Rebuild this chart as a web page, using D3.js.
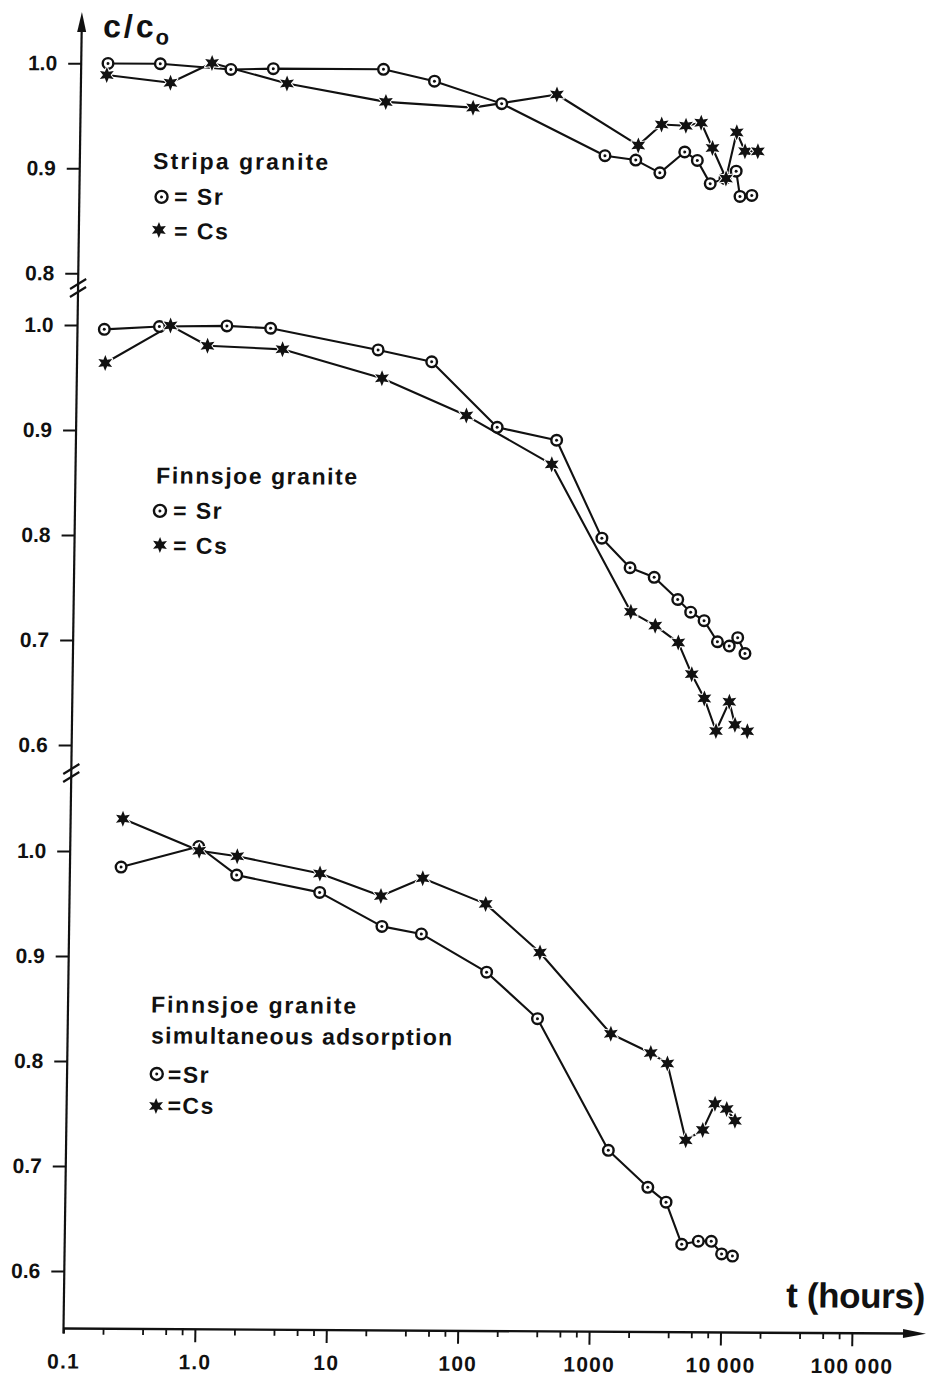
<!DOCTYPE html>
<html>
<head>
<meta charset="utf-8">
<script src="https://cdn.jsdelivr.net/npm/d3@7/dist/d3.min.js"></script>
<style>
  html, body { margin: 0; padding: 0; background: #fff; }
  svg { display: block; }
  text { font-family: "Liberation Sans", Arial, Helvetica, sans-serif; font-weight: bold; fill: #111; }
</style>
</head>
<body>
<svg id="chart" width="931" height="1381"></svg>
<script>
// ---- axis ticks ----
const timeTicks = [0.1, 1, 10, 100, 1000, 10000, 100000];
const timeTickLabels = ["0.1", "1.0", "10", "100", "1000", "10\u2009000", "100\u2009000"];
const timeMinorSteps = [2, 4, 6, 8];
const stripaTicks = [0.8, 0.9, 1.0];
const finnsjoeTicks = [0.6, 0.7, 0.8, 0.9, 1.0];

// ---- Stripa granite (t in hours, c/c0) ----
const stripaSrTime = [0.16, 0.40, 1.38, 2.9, 20, 49, 160, 990, 1700, 2600, 4000, 5000, 6300, 8150, 9900, 10650, 13100];
const stripaSrC    = [1.000, 1.000, 0.995, 0.996, 0.996, 0.985, 0.964, 0.915, 0.911, 0.899, 0.919, 0.911, 0.889, 0.894, 0.901, 0.877, 0.878];
const stripaCsTime = [0.157, 0.48, 0.99, 3.7, 21, 97, 420, 1770, 2650, 4060, 5300, 6500, 8300, 9900, 11500, 14400];
const stripaCsC    = [0.989, 0.982, 1.001, 0.982, 0.965, 0.960, 0.973, 0.925, 0.945, 0.944, 0.947, 0.923, 0.894, 0.938, 0.920, 0.920];

// ---- Finnsjoe granite ----
const finnSrTime = [0.16, 0.42, 1.37, 2.95, 19.5, 50, 160, 455, 1030, 1700, 2600, 3950, 4970, 6300, 8000, 9850, 11400, 13000];
const finnSrC    = [0.996, 0.999, 1.000, 0.998, 0.978, 0.967, 0.905, 0.893, 0.800, 0.772, 0.763, 0.742, 0.730, 0.722, 0.702, 0.698, 0.706, 0.691];
const finnCsTime = [0.164, 0.51, 0.98, 3.65, 21, 93, 420, 1740, 2680, 4030, 5140, 6450, 7970, 10000, 11100, 13800];
const finnCsC    = [0.964, 1.000, 0.981, 0.978, 0.951, 0.916, 0.870, 0.730, 0.717, 0.701, 0.671, 0.648, 0.617, 0.645, 0.623, 0.617];

// ---- Finnsjoe granite, simultaneous adsorption ----
const simSrTime = [0.245, 0.95, 1.86, 8.0, 24, 48, 152, 375, 1340, 2700, 3730, 4960, 6630, 8320, 10000, 12100];
const simSrC    = [0.985, 1.005, 0.978, 0.962, 0.930, 0.923, 0.887, 0.843, 0.718, 0.683, 0.669, 0.629, 0.632, 0.632, 0.620, 0.618];
const simCsTime = [0.25, 0.96, 1.87, 8.0, 23.4, 48.5, 147, 385, 1360, 2750, 3690, 5190, 6970, 8590, 10550, 12240];
const simCsC    = [1.031, 1.001, 0.996, 0.980, 0.959, 0.976, 0.952, 0.906, 0.829, 0.811, 0.801, 0.728, 0.738, 0.763, 0.758, 0.747];

// ---- layout ----
const INK = "#111";
const O = { x: 63.5, y: 1328.5 };          // axis origin (t = 0.1 h)
const DECADE = 131.4;                        // px per decade of time
const shear = { y: 0.014, x: 0.006 };        // the plate is drawn with a slight shear

const svg = d3.select("#chart");
svg.append("rect").attr("width", 931).attr("height", 1381).attr("fill", "#fff");

const plate = svg.append("g")
  .attr("transform", `matrix(1,${shear.x},${-shear.y},1,${shear.y * O.y},${-shear.x * O.x})`);

const x = d3.scaleLog().domain([0.1, 1e5]).range([O.x, O.x + 6 * DECADE]);

const panels = [
  {
    y: d3.scaleLinear().domain([0.8, 1.0]).range([273.3, 63.3]),
    ticks: stripaTicks,
    sr: d3.zip(stripaSrTime, stripaSrC),
    cs: d3.zip(stripaCsTime, stripaCsC),
    titles: [{ text: "Stripa granite", x: 136.8, y: 168.5, w: 175 }],
    legendSr: { mx: 145.7, my: 196.4, text: "= Sr", tx: 158.3, ty: 204 },
    legendCs: { mx: 143.5, my: 229.4, text: "= Cs", tx: 158.7, ty: 238.5 }
  },
  {
    y: d3.scaleLinear().domain([0.6, 1.0]).range([745, 325]),
    ticks: finnsjoeTicks,
    sr: d3.zip(finnSrTime, finnSrC),
    cs: d3.zip(finnCsTime, finnCsC),
    titles: [{ text: "Finnsjoe granite", x: 144.2, y: 483, w: 201 }],
    legendSr: { mx: 148.5, my: 510.4, text: "= Sr", tx: 161.6, ty: 518 },
    legendCs: { mx: 149, my: 544.4, text: "= Cs", tx: 162.1, ty: 553 }
  },
  {
    y: d3.scaleLinear().domain([0.6, 1.0]).range([1271, 851]),
    ticks: finnsjoeTicks,
    sr: d3.zip(simSrTime, simSrC),
    cs: d3.zip(simCsTime, simCsC),
    titles: [
      { text: "Finnsjoe granite", x: 146.6, y: 1012, w: 205 },
      { text: "simultaneous adsorption", x: 147, y: 1043, w: 301 }
    ],
    legendSr: { mx: 153.2, my: 1073.4, text: "=Sr", tx: 164.3, ty: 1082 },
    legendCs: { mx: 152.9, my: 1105.4, text: "=Cs", tx: 164.4, ty: 1113 }
  }
];

// ---- marker shapes ----
function starPath(R, r, n) {
  const pts = [];
  for (let i = 0; i < 2 * n; i++) {
    const a = -Math.PI / 2 + i * Math.PI / n;
    const rad = i % 2 ? r : R;
    pts.push([rad * Math.cos(a), rad * Math.sin(a)]);
  }
  return "M" + pts.map(p => p[0].toFixed(2) + "," + p[1].toFixed(2)).join("L") + "Z";
}
const STAR = starPath(8, 3.8, 6);

function drawCircleMarker(sel, r) {
  sel.append("circle").attr("r", r).attr("fill", "#fff").attr("stroke", INK).attr("stroke-width", 2.4);
  sel.append("circle").attr("r", 1.5).attr("fill", INK);
}
function drawStarMarker(sel, scale) {
  sel.append("path").attr("d", STAR)
    .attr("transform", `scale(${scale})`)
    .attr("fill", INK).attr("stroke", "#fff").attr("stroke-width", 2)
    .attr("paint-order", "stroke").attr("stroke-linejoin", "round");
}

// ---- y axis line with arrow ----
plate.append("line")
  .attr("x1", O.x).attr("y1", O.y + 5).attr("x2", O.x).attr("y2", 28)
  .attr("stroke", INK).attr("stroke-width", 2.2);
plate.append("path")
  .attr("d", `M${O.x},12 L${O.x - 4.5},32 L${O.x + 4.5},32 Z`)
  .attr("fill", INK);

// axis breaks between the panels
[284, 292, 769, 777].forEach(yb => {
  plate.append("line")
    .attr("x1", O.x - 8).attr("y1", yb + 5).attr("x2", O.x + 8).attr("y2", yb - 5)
    .attr("stroke", INK).attr("stroke-width", 2.2);
});

// ---- x axis line with arrow ----
plate.append("line")
  .attr("x1", O.x).attr("y1", O.y).attr("x2", 906).attr("y2", O.y)
  .attr("stroke", INK).attr("stroke-width", 2.4);
plate.append("path")
  .attr("d", `M926,${O.y} L903,${O.y - 4.5} L903,${O.y + 4.5} Z`)
  .attr("fill", INK);

// major decade ticks and labels
const xAxisG = plate.append("g").attr("transform", `translate(0,${O.y})`)
  .call(d3.axisBottom(x).tickValues(timeTicks).tickSize(13)
    .tickFormat((d, i) => timeTickLabels[i]));
xAxisG.select(".domain").remove();
xAxisG.selectAll(".tick line").attr("stroke", INK).attr("stroke-width", 2)
  .filter(d => d === 0.1).attr("y2", 5);
xAxisG.selectAll(".tick text")
  .attr("y", 40).attr("dy", 0)
  .attr("fill", INK).style("font-size", "21px").style("letter-spacing", "1.2px")
  .style("font-family", '"Liberation Sans", Arial, sans-serif').style("font-weight", "bold");

// minor ticks at 2, 4, 6, 8 within each decade
const minorValues = [];
timeTicks.slice(0, -1).forEach(dec => timeMinorSteps.forEach(s => minorValues.push(dec * s)));
const xMinorG = plate.append("g").attr("transform", `translate(0,${O.y})`)
  .call(d3.axisBottom(x).tickValues(minorValues).tickSize(6).tickFormat(""));
xMinorG.select(".domain").remove();
xMinorG.selectAll(".tick line").attr("stroke", INK).attr("stroke-width", 1.8);

// axis titles
const yTitle = plate.append("text").attr("x", 85).attr("y", 37);
yTitle.append("tspan").text("c/c").style("font-size", "32px").style("letter-spacing", "3px");
yTitle.append("tspan").text("o").attr("dx", -1).attr("dy", 7).style("font-size", "22px");

plate.append("text")
  .attr("x", 785.7).attr("y", 1303)
  .attr("textLength", 139).attr("lengthAdjust", "spacing")
  .style("font-size", "35px")
  .text("t (hours)");

// ---- panels ----
const line = yScale => d3.line().x(d => x(d[0])).y(d => yScale(d[1]));

panels.forEach(p => {
  // y ticks
  const yAxisG = plate.append("g").attr("transform", `translate(${O.x},0)`)
    .call(d3.axisLeft(p.y).tickValues(p.ticks).tickSize(13).tickPadding(11)
      .tickFormat(d3.format(".1f")));
  yAxisG.select(".domain").remove();
  yAxisG.selectAll(".tick line").attr("stroke", INK).attr("stroke-width", 2);
  yAxisG.selectAll(".tick text")
    .attr("fill", INK).style("font-size", "21px")
    .style("font-family", '"Liberation Sans", Arial, sans-serif').style("font-weight", "bold");

  // connecting lines
  [p.sr, p.cs].forEach(series => {
    plate.append("path").datum(series)
      .attr("d", line(p.y))
      .attr("fill", "none").attr("stroke", INK).attr("stroke-width", 2.1)
      .attr("stroke-linejoin", "round");
  });

  // Sr: dotted circles
  plate.append("g").selectAll("g").data(p.sr).join("g")
    .attr("transform", d => `translate(${x(d[0])},${p.y(d[1])})`)
    .each(function () { drawCircleMarker(d3.select(this), 5.3); });

  // Cs: six-pointed stars
  plate.append("g").selectAll("g").data(p.cs).join("g")
    .attr("transform", d => `translate(${x(d[0])},${p.y(d[1])})`)
    .each(function () { drawStarMarker(d3.select(this), 1); });

  // panel title
  p.titles.forEach(t => {
    plate.append("text").attr("x", t.x).attr("y", t.y)
      .attr("textLength", t.w).attr("lengthAdjust", "spacing")
      .style("font-size", "23px").text(t.text);
  });

  // key
  const kSr = plate.append("g").attr("transform", `translate(${p.legendSr.mx},${p.legendSr.my})`);
  drawCircleMarker(kSr, 6);
  plate.append("text").attr("x", p.legendSr.tx).attr("y", p.legendSr.ty)
    .style("font-size", "23px").style("letter-spacing", "1.5px").text(p.legendSr.text);

  const kCs = plate.append("g").attr("transform", `translate(${p.legendCs.mx},${p.legendCs.my})`);
  drawStarMarker(kCs, 1.0);
  plate.append("text").attr("x", p.legendCs.tx).attr("y", p.legendCs.ty)
    .style("font-size", "23px").style("letter-spacing", "1.5px").text(p.legendCs.text);
});
</script>
</body>
</html>
